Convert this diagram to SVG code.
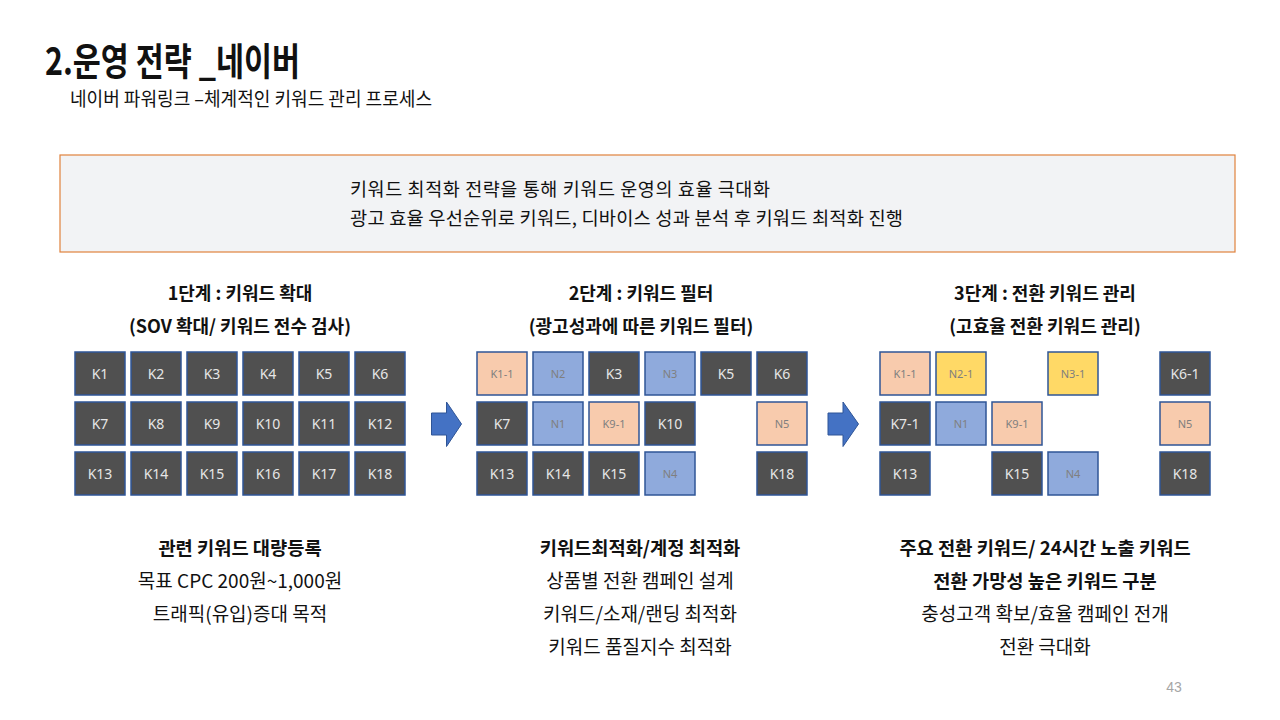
<svg xmlns="http://www.w3.org/2000/svg" width="1280" height="720" viewBox="0 0 1280 720">
<style>
.kr{font-family:"Noto Sans CJK KR","Noto Sans",sans-serif;fill:#111}
.b{font-weight:700}
.hd{font-size:18px;text-anchor:middle;font-weight:700}
.ln{font-size:19px;text-anchor:middle}
.ln.b{font-size:18.7px}
.bx rect{stroke:#2F5597;stroke-width:1.5}
.d rect{fill:#505050}
.p rect{fill:#F8CBAD}
.u rect{fill:#8FAADC}
.y rect{fill:#FFD966}
.bx text{font-family:"Noto Sans","Liberation Sans",sans-serif;text-anchor:middle;dominant-baseline:central}
.d text{fill:#E6E6E6;font-size:14px}
.p text,.u text,.y text{fill:#7F7F7F;font-size:11px}
.arr{fill:#4472C4;stroke:#2F5597;stroke-width:1}
</style>
<rect width="1280" height="720" fill="#fff"/>
<g id="title">
<text class="kr b" x="45" y="75" font-size="38" textLength="255" lengthAdjust="spacingAndGlyphs">2.운영 전략 _네이버</text>
<text class="kr" x="70" y="106" font-size="19" textLength="362" lengthAdjust="spacingAndGlyphs">네이버 파워링크 –체계적인 키워드 관리 프로세스</text>
</g>
<g id="summary">
<rect x="60" y="155" width="1175" height="97" fill="#F2F3F5" stroke="#E0823D" stroke-width="1.2"/>
<text class="kr" x="350" y="196" font-size="18.5" textLength="420" lengthAdjust="spacing">키워드 최적화 전략을 통해 키워드 운영의 효율 극대화</text>
<text class="kr" x="350" y="225" font-size="18.7" textLength="553" lengthAdjust="spacing">광고 효율 우선순위로 키워드, 디바이스 성과 분석 후 키워드 최적화 진행</text>
</g>
<g id="stage1-head">
<text class="kr hd" x="240" y="300">1단계 : 키워드 확대</text>
<text class="kr hd" x="240" y="333" font-size="18.7">(SOV 확대/ 키워드 전수 검사)</text>
</g>
<g id="stage2-head">
<text class="kr hd" x="641" y="300">2단계 : 키워드 필터</text>
<text class="kr hd" x="641" y="333" font-size="18.7">(광고성과에 따른 키워드 필터)</text>
</g>
<g id="stage3-head">
<text class="kr hd" x="1045" y="300">3단계 : 전환 키워드 관리</text>
<text class="kr hd" x="1045" y="333" font-size="18.7">(고효율 전환 키워드 관리)</text>
</g>
<g id="stage1-grid">
<g id="s1-k1" class="bx d"><rect x="75" y="352" width="50" height="43"/><text x="100" y="373.5">K1</text></g>
<g id="s1-k2" class="bx d"><rect x="131" y="352" width="50" height="43"/><text x="156" y="373.5">K2</text></g>
<g id="s1-k3" class="bx d"><rect x="187" y="352" width="50" height="43"/><text x="212" y="373.5">K3</text></g>
<g id="s1-k4" class="bx d"><rect x="243" y="352" width="50" height="43"/><text x="268" y="373.5">K4</text></g>
<g id="s1-k5" class="bx d"><rect x="299" y="352" width="50" height="43"/><text x="324" y="373.5">K5</text></g>
<g id="s1-k6" class="bx d"><rect x="355" y="352" width="50" height="43"/><text x="380" y="373.5">K6</text></g>
<g id="s1-k7" class="bx d"><rect x="75" y="402" width="50" height="43"/><text x="100" y="423.5">K7</text></g>
<g id="s1-k8" class="bx d"><rect x="131" y="402" width="50" height="43"/><text x="156" y="423.5">K8</text></g>
<g id="s1-k9" class="bx d"><rect x="187" y="402" width="50" height="43"/><text x="212" y="423.5">K9</text></g>
<g id="s1-k10" class="bx d"><rect x="243" y="402" width="50" height="43"/><text x="268" y="423.5">K10</text></g>
<g id="s1-k11" class="bx d"><rect x="299" y="402" width="50" height="43"/><text x="324" y="423.5">K11</text></g>
<g id="s1-k12" class="bx d"><rect x="355" y="402" width="50" height="43"/><text x="380" y="423.5">K12</text></g>
<g id="s1-k13" class="bx d"><rect x="75" y="452" width="50" height="43"/><text x="100" y="473.5">K13</text></g>
<g id="s1-k14" class="bx d"><rect x="131" y="452" width="50" height="43"/><text x="156" y="473.5">K14</text></g>
<g id="s1-k15" class="bx d"><rect x="187" y="452" width="50" height="43"/><text x="212" y="473.5">K15</text></g>
<g id="s1-k16" class="bx d"><rect x="243" y="452" width="50" height="43"/><text x="268" y="473.5">K16</text></g>
<g id="s1-k17" class="bx d"><rect x="299" y="452" width="50" height="43"/><text x="324" y="473.5">K17</text></g>
<g id="s1-k18" class="bx d"><rect x="355" y="452" width="50" height="43"/><text x="380" y="473.5">K18</text></g>
</g>
<g id="stage2-grid">
<g id="s2-k1-1" class="bx p"><rect x="477" y="352" width="50" height="43"/><text x="502" y="373.5">K1-1</text></g>
<g id="s2-n2" class="bx u"><rect x="533" y="352" width="50" height="43"/><text x="558" y="373.5">N2</text></g>
<g id="s2-k3" class="bx d"><rect x="589" y="352" width="50" height="43"/><text x="614" y="373.5">K3</text></g>
<g id="s2-n3" class="bx u"><rect x="645" y="352" width="50" height="43"/><text x="670" y="373.5">N3</text></g>
<g id="s2-k5" class="bx d"><rect x="701" y="352" width="50" height="43"/><text x="726" y="373.5">K5</text></g>
<g id="s2-k6" class="bx d"><rect x="757" y="352" width="50" height="43"/><text x="782" y="373.5">K6</text></g>
<g id="s2-k7" class="bx d"><rect x="477" y="402" width="50" height="43"/><text x="502" y="423.5">K7</text></g>
<g id="s2-n1" class="bx u"><rect x="533" y="402" width="50" height="43"/><text x="558" y="423.5">N1</text></g>
<g id="s2-k9-1" class="bx p"><rect x="589" y="402" width="50" height="43"/><text x="614" y="423.5">K9-1</text></g>
<g id="s2-k10" class="bx d"><rect x="645" y="402" width="50" height="43"/><text x="670" y="423.5">K10</text></g>
<g id="s2-n5" class="bx p"><rect x="757" y="402" width="50" height="43"/><text x="782" y="423.5">N5</text></g>
<g id="s2-k13" class="bx d"><rect x="477" y="452" width="50" height="43"/><text x="502" y="473.5">K13</text></g>
<g id="s2-k14" class="bx d"><rect x="533" y="452" width="50" height="43"/><text x="558" y="473.5">K14</text></g>
<g id="s2-k15" class="bx d"><rect x="589" y="452" width="50" height="43"/><text x="614" y="473.5">K15</text></g>
<g id="s2-n4" class="bx u"><rect x="645" y="452" width="50" height="43"/><text x="670" y="473.5">N4</text></g>
<g id="s2-k18" class="bx d"><rect x="757" y="452" width="50" height="43"/><text x="782" y="473.5">K18</text></g>
</g>
<g id="stage3-grid">
<g id="s3-k1-1" class="bx p"><rect x="880" y="352" width="50" height="43"/><text x="905" y="373.5">K1-1</text></g>
<g id="s3-n2-1" class="bx y"><rect x="936" y="352" width="50" height="43"/><text x="961" y="373.5">N2-1</text></g>
<g id="s3-n3-1" class="bx y"><rect x="1048" y="352" width="50" height="43"/><text x="1073" y="373.5">N3-1</text></g>
<g id="s3-k6-1" class="bx d"><rect x="1160" y="352" width="50" height="43"/><text x="1185" y="373.5">K6-1</text></g>
<g id="s3-k7-1" class="bx d"><rect x="880" y="402" width="50" height="43"/><text x="905" y="423.5">K7-1</text></g>
<g id="s3-n1" class="bx u"><rect x="936" y="402" width="50" height="43"/><text x="961" y="423.5">N1</text></g>
<g id="s3-k9-1" class="bx p"><rect x="992" y="402" width="50" height="43"/><text x="1017" y="423.5">K9-1</text></g>
<g id="s3-n5" class="bx p"><rect x="1160" y="402" width="50" height="43"/><text x="1185" y="423.5">N5</text></g>
<g id="s3-k13" class="bx d"><rect x="880" y="452" width="50" height="43"/><text x="905" y="473.5">K13</text></g>
<g id="s3-k15" class="bx d"><rect x="992" y="452" width="50" height="43"/><text x="1017" y="473.5">K15</text></g>
<g id="s3-n4" class="bx u"><rect x="1048" y="452" width="50" height="43"/><text x="1073" y="473.5">N4</text></g>
<g id="s3-k18" class="bx d"><rect x="1160" y="452" width="50" height="43"/><text x="1185" y="473.5">K18</text></g>
</g>
<g id="connectors">
<path class="arr" d="M431.5,413 H446.5 V402 L461.5,424 L446.5,446.5 V435 H431.5 Z"/>
<path class="arr" d="M828,413 H843 V402 L858.5,424 L843,446.5 V435 H828 Z"/>
</g>
<g id="stage1-notes">
<text class="kr ln b" x="240" y="555">관련 키워드 대량등록</text>
<text class="kr ln" x="240" y="588">목표 CPC 200원~1,000원</text>
<text class="kr ln" x="240" y="621">트래픽(유입)증대 목적</text>
</g>
<g id="stage2-notes">
<text class="kr ln b" x="640" y="555">키워드최적화/계정 최적화</text>
<text class="kr ln" x="640" y="588">상품별 전환 캠페인 설계</text>
<text class="kr ln" x="640" y="621">키워드/소재/랜딩 최적화</text>
<text class="kr ln" x="640" y="654">키워드 품질지수 최적화</text>
</g>
<g id="stage3-notes">
<text class="kr ln b" x="1045" y="555">주요 전환 키워드/ 24시간 노출 키워드</text>
<text class="kr ln b" x="1045" y="588">전환 가망성 높은 키워드 구분</text>
<text class="kr ln" x="1045" y="621">충성고객 확보/효율 캠페인 전개</text>
<text class="kr ln" x="1045" y="654">전환 극대화</text>
</g>
<text x="1174" y="692" font-family="Liberation Sans, sans-serif" font-size="14" fill="#A6A6A6" text-anchor="middle">43</text>
</svg>
